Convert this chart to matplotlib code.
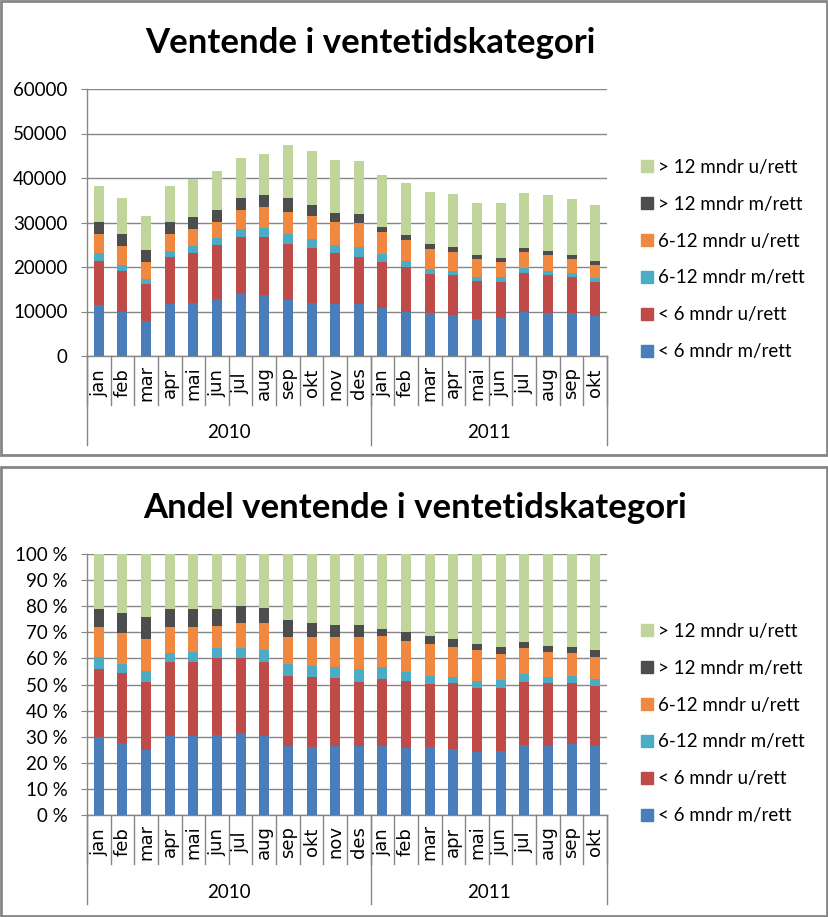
import matplotlib
matplotlib.use("Agg")
import matplotlib.pyplot as plt
import numpy as np
from matplotlib.patches import Rectangle
from matplotlib.lines import Line2D

months = ["jan", "feb", "mar", "apr", "mai", "jun", "jul", "aug", "sep", "okt", "nov", "des",
          "jan", "feb", "mar", "apr", "mai", "jun", "jul", "aug", "sep", "okt"]
years = ["2010", "2011"]
year_counts = [12, 10]

series_names = ["< 6 mndr m/rett", "< 6 mndr u/rett", "6-12 mndr m/rett",
                "6-12 mndr u/rett", "> 12 mndr m/rett", "> 12 mndr u/rett"]

lt6_m = [11400, 9800, 7900, 11600, 12000, 12700, 14000, 13800, 12500, 12000, 11600, 11600,
         10700, 10000, 9600, 9200, 8300, 8500, 9800, 9600, 9600, 8900]
lt6_u = [9950, 9400, 8200, 10700, 11200, 12300, 12700, 12900, 12700, 12300, 11600, 10700,
         10500, 10000, 8900, 9100, 8500, 8200, 8900, 8700, 8200, 7800]
m6_12_m = [1700, 1300, 1300, 1300, 1600, 1600, 1800, 2000, 2200, 2000, 1800, 2200,
           1800, 1300, 1100, 900, 900, 1100, 1100, 900, 900, 900]
m6_12_u = [4400, 4200, 3800, 3800, 3800, 3600, 4200, 4700, 4900, 5100, 5100, 5400,
           4900, 4700, 4500, 4200, 4000, 3400, 3600, 3400, 3100, 2900]
gt12_m = [2700, 2700, 2700, 2700, 2700, 2700, 2900, 2700, 3100, 2500, 2000, 2000,
          1100, 1300, 1100, 1100, 900, 900, 900, 900, 900, 900]
gt12_u = [8000, 8000, 7600, 8000, 8400, 8700, 8900, 9400, 12000, 12100, 12000, 12000,
          11600, 11600, 11600, 11800, 11800, 12300, 12300, 12700, 12500, 12500]

colors = ["#4A7EBB", "#BE4B48", "#4BACC6", "#F0893F", "#4D4D4D", "#BFD59A"]

W, H = 829, 917
fig = plt.figure(figsize=(W / 100, H / 100), dpi=100)
fig.patch.set_facecolor("white")

FONT = "Lato"
GRID = "#868686"


def fx(px):
    return px / W


def fy(py):
    return 1 - py / H


# panel borders
for (x0, y0, x1, y1) in [(1, 1, 827, 455), (1, 467, 827, 916)]:
    fig.add_artist(Rectangle((fx(x0), fy(y1)), fx(x1 - x0), (y1 - y0) / H,
                             transform=fig.transFigure, fill=False,
                             edgecolor=GRID, linewidth=2))

data = np.array([lt6_m, lt6_u, m6_12_m, m6_12_u, gt12_m, gt12_u], dtype=float)


def draw_panel(top, bottom, values, ylim, yticks, ylabels, title, title_x, title_y, legend_cy):
    left, right = 87, 607
    ax = fig.add_axes([fx(left), fy(bottom), fx(right - left), (bottom - top) / H])
    x = np.arange(len(months))
    base = np.zeros(len(months))
    handles = []
    for vals, name, c in zip(values, series_names, colors):
        ax.bar(x, vals, bottom=base, width=0.42, color=c, label=name, zorder=3)
        base = base + vals
        handles.append(Line2D([], [], marker="s", linestyle="none", markersize=8,
                              markerfacecolor=c, markeredgecolor=c, label=name))
    ax.set_xlim(-0.5, len(months) - 0.5)
    ax.set_ylim(*ylim)
    ax.set_yticks(yticks)
    ax.set_yticklabels(ylabels, fontsize=13.5, family=FONT)
    ax.yaxis.grid(True, color=GRID, linewidth=1, zorder=0)
    ax.tick_params(axis="y", length=4, color=GRID, pad=10)
    for lab in ax.get_yticklabels():
        lab.set_horizontalalignment("right")
    ax.set_xticks([])
    for s in ["top", "right"]:
        ax.spines[s].set_visible(False)
    for s in ["left", "bottom"]:
        ax.spines[s].set_color(GRID)
        ax.spines[s].set_linewidth(1)

    hpx = bottom - top
    tr = ax.get_xaxis_transform()
    # month separators and labels
    for i in range(len(months) + 1):
        ax.plot([i - 0.5, i - 0.5], [0, -49 / hpx], transform=tr, color=GRID,
                linewidth=1, clip_on=False)
    for i, m in enumerate(months):
        ax.text(i, -27 / hpx, m, transform=tr, rotation=90, ha="center", va="center",
                fontsize=13, family="DejaVu Sans", color="black")
    # year separators and labels
    pos = -0.5
    edges = [pos]
    for cnt in year_counts:
        pos += cnt
        edges.append(pos)
    for e in edges:
        ax.plot([e, e], [0, -89 / hpx], transform=tr, color=GRID, linewidth=1, clip_on=False)
    for yname, a, b in zip(years, edges[:-1], edges[1:]):
        ax.text((a + b) / 2, -77 / hpx, yname, transform=tr, ha="center", va="center",
                fontsize=13.5, family=FONT)

    fig.text(fx(title_x), fy(title_y), title, ha="center", va="center",
             fontsize=25, fontweight="bold", family=FONT)

    fig.legend(handles=handles[::-1], loc="center left",
               bbox_to_anchor=(fx(632), fy(legend_cy)), frameon=False,
               prop={"family": FONT, "size": 13.5}, labelspacing=1.06,
               handlelength=0.8, handletextpad=0.2, borderaxespad=0)
    return ax


draw_panel(89, 356, data, (0, 60000), np.arange(0, 60001, 10000),
           [f"{v}" for v in range(0, 60001, 10000)],
           "Ventende i ventetidskategori", 370, 43, 259.5)

shares = data / data.sum(axis=0)
pt = np.arange(0, 1.0001, 0.1)
draw_panel(554, 815, shares, (0, 1), pt, [f"{int(round(v * 100))} %" for v in pt],
           "Andel ventende i ventetidskategori", 415, 508, 723.5)

fig.savefig("out.png", dpi=100, facecolor="white")
